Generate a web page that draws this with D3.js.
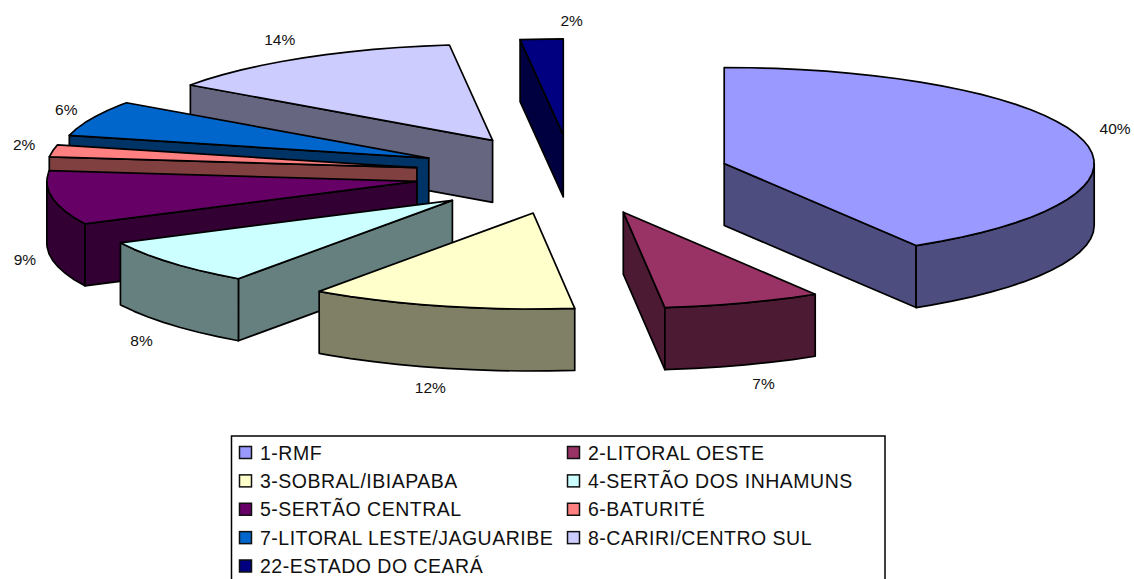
<!DOCTYPE html>
<html>
<head>
<meta charset="utf-8">
<script src="https://cdn.jsdelivr.net/npm/d3@7"></script>
<style>
  html, body { margin: 0; padding: 0; background: #fff; overflow: hidden; }
  svg { display: block; font-family: "Liberation Sans", Arial, sans-serif; }
</style>
</head>
<body>
<svg id="chart" width="1134" height="579"></svg>
<script>
// Regional shares, clockwise from twelve o'clock
const regions = ["1-RMF", "2-LITORAL OESTE", "3-SOBRAL/IBIAPABA", "4-SERTÃO DOS INHAMUNS",
  "5-SERTÃO CENTRAL", "6-BATURITÉ", "7-LITORAL LESTE/JAGUARIBE", "8-CARIRI/CENTRO SUL", "22-ESTADO DO CEARÁ"];
const shares = [40, 7, 12, 8, 9, 2, 6, 14, 2];
const topColors = ["#9999FF", "#993366", "#FFFFCC", "#CCFFFF", "#660066", "#FF8080", "#0066CC", "#CCCCFF", "#000080"];
const sideColors = ["#4D4D80", "#4D1A33", "#808066", "#668080", "#330033", "#804040", "#003366", "#666680", "#000040"];

// Tilted disc geometry
const center = { x: 572.5, y: 174.6 };
const radius = { x: 370, y: 96 };
const explode = { x: 158, y: 39.7 };
const depth = 62;
const degrees = Math.PI / 180;
const arcStep = 4 * degrees;     // the rim is drawn as short straight segments
const labelReach = { x: 405, y: 116 };
const labelNudge = [[2, -2], [10, 0], [-2, 0], [-3, 3], [7, -4], [6, -3], [6, 0], [-8, -1], [32, 1]];

const svg = d3.select("#chart");
const outline = d3.line().curve(d3.curveLinearClosed);
// Slight angular distortion of the 3D projection
const lean = a => a + 4 * degrees * Math.sin(a / 2) - 1 * degrees * Math.sin(2 * a);
const rim = (apex, a) => [apex[0] + radius.x * Math.sin(a), apex[1] - radius.y * Math.cos(a)];
const lowered = p => [p[0], p[1] + depth];

const arcs = d3.pie().sort(null).value(d => d)(shares).map((d, i) => {
  const a0 = lean(d.startAngle), a1 = lean(d.endAngle), mid = lean((d.startAngle + d.endAngle) / 2);
  const apex = [center.x + explode.x * Math.sin(mid), center.y - explode.y * Math.cos(mid)];
  return { i, a0, a1, mid, apex, value: d.value };
});

// Angles along a rim stretch, always including both ends
function sweep(from, to) {
  const out = d3.range(from, to, arcStep);
  out.push(to);
  return out;
}

const slices = svg.append("g");
// Far slices are painted first so that near slices cover them
arcs.slice().sort((p, q) => Math.cos(q.mid) - Math.cos(p.mid)).forEach(s => {
  const g = slices.append("g");
  const paint = (pts, fill) => g.append("path").attr("d", outline(pts)).attr("fill", fill)
    .attr("stroke", "#000").attr("stroke-width", 1.7).attr("stroke-linejoin", "round");
  const side = sideColors[s.i];

  // Cut faces, only those turned towards the viewer
  [[s.a0, Math.sin(s.a0) < -1e-6], [s.a1, Math.sin(s.a1) > 1e-6]].forEach(([a, shown]) => {
    if (!shown) return;
    const edge = rim(s.apex, a);
    paint([s.apex, edge, lowered(edge), lowered(s.apex)], side);
  });

  // Outer wall over the near half of the rim
  const from = Math.max(s.a0, Math.PI / 2), to = Math.min(s.a1, 3 * Math.PI / 2);
  if (from < to) {
    const upper = sweep(from, to).map(a => rim(s.apex, a));
    paint(upper.concat(upper.slice().reverse().map(lowered)), side);
  }

  // Top face
  paint([s.apex].concat(sweep(s.a0, s.a1).map(a => rim(s.apex, a))), topColors[s.i]);
});

// Percentage labels placed radially beyond each slice
svg.append("g").selectAll("text").data(arcs).join("text")
  .attr("x", d => d.apex[0] + labelReach.x * Math.sin(d.mid) + labelNudge[d.i][0])
  .attr("y", d => d.apex[1] - labelReach.y * Math.cos(d.mid) + (Math.cos(d.mid) < 0 ? depth : 0) + labelNudge[d.i][1])
  .attr("dy", "0.35em")
  .attr("text-anchor", "middle")
  .attr("font-size", 15.5)
  .attr("fill", "#111")
  .text(d => d.value + "%");

// Legend: two columns filled row by row; its frame runs past the lower edge
const legendX = d3.scalePoint().domain([0, 1]).range([239, 567]);
const legendY = d3.scalePoint().domain(d3.range(5)).range([452.5, 566]);
const legend = svg.append("g");
legend.append("rect").attr("x", 231.5).attr("y", 436).attr("width", 653.5).attr("height", 160)
  .attr("fill", "#fff").attr("stroke", "#000").attr("stroke-width", 1.5);
const items = legend.selectAll("g").data(regions).join("g")
  .attr("transform", (d, i) => `translate(${legendX(i % 2)},${legendY(Math.floor(i / 2))})`);
items.append("rect").attr("x", 0.5).attr("y", -6).attr("width", 12).attr("height", 12)
  .attr("fill", (d, i) => topColors[i]).attr("stroke", "#111").attr("stroke-width", 1.5);
items.append("text").attr("x", 21).attr("dy", "0.36em").attr("font-size", 19.5)
  .attr("letter-spacing", 0.5).attr("fill", "#111").text(d => d);
</script>
</body>
</html>
